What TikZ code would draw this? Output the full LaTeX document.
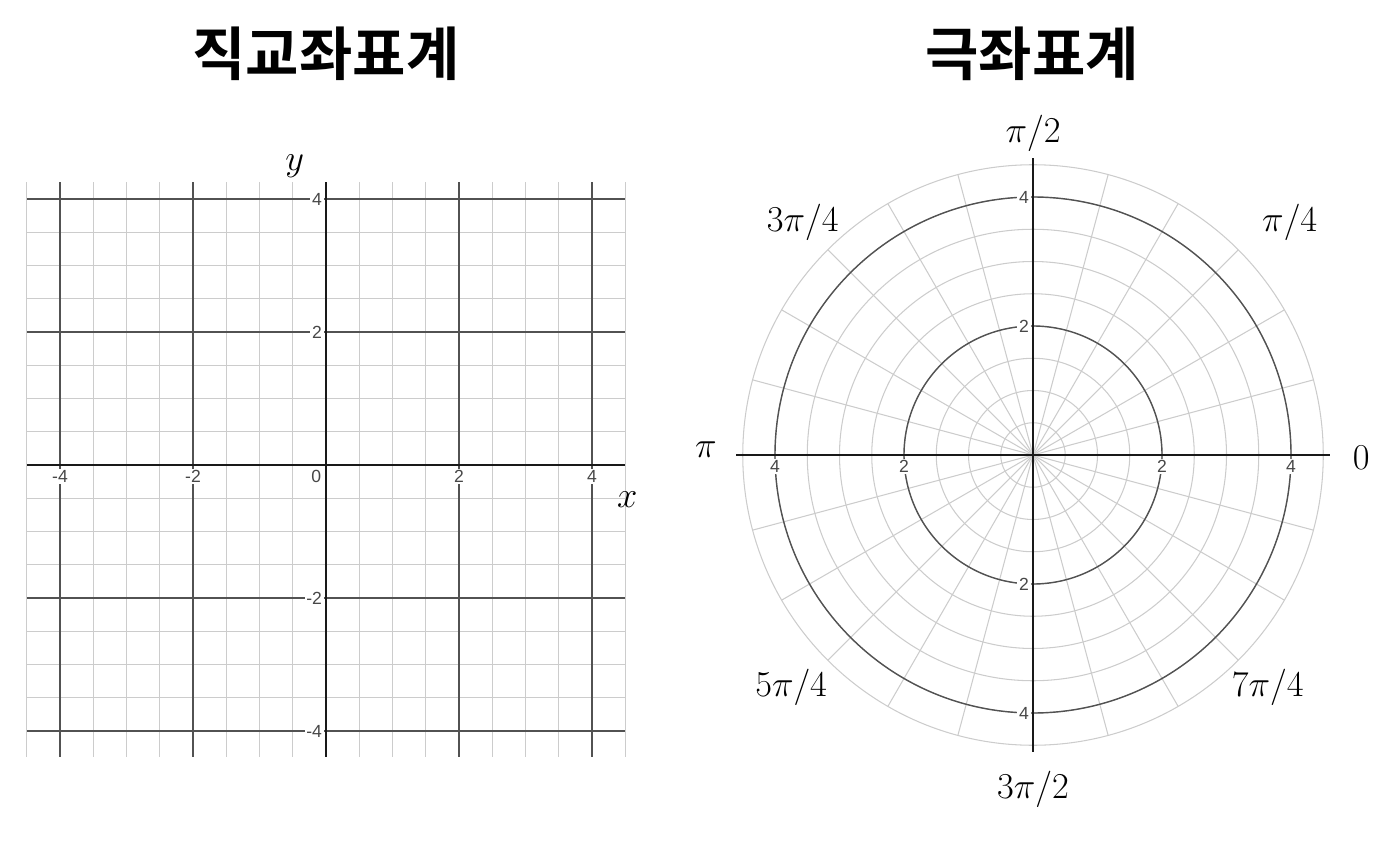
\documentclass[tikz,border=0pt]{standalone}
\usepackage{fontspec}
\newfontfamily\krfont{Noto Sans CJK KR}[BoldFont={Noto Sans CJK KR Bold}]
\newfontfamily\tickfont{Liberation Sans}
\usetikzlibrary{positioning}

\begin{document}
\begin{tikzpicture}[
        font=\footnotesize,
        title/.style={font=\krfont\bfseries\fontsize{33}{36}\selectfont},
        minorline/.style={draw=black!20, line width=0.6pt},
        majorline/.style={draw=black!68, line width=0.8pt},
        axisline/.style={draw=black!90, line width=1.1pt},
        ticklabel/.style={font=\tickfont\fontsize{10}{12}\selectfont, text=black!72, fill=white, inner sep=1pt},
        anglelabel/.style={font=\fontsize{20}{24}\selectfont},
    ]
    \useasboundingbox (0,0) rectangle (28,17.22);

    % ---- Titles ----
    \node[title] (cart-title) at (6.52,16.14) {직교좌표계};
    \node[title] (polar-title) at (20.64,16.14) {극좌표계};

    % ---- Cartesian (left) ----
    \begin{scope}[shift={(6.52,7.92)}, x=1.33cm, y=1.33cm]
        \foreach \i in {-9,...,9}
            \draw[minorline] (\i/2,-4.39) -- (\i/2,4.26);
        \foreach \i in {-8,...,8}
            \draw[minorline] (-4.5,\i/2) -- (4.5,\i/2);
        \foreach \v in {-4,-2,2,4} {
            \draw[majorline] (\v,-4.39) -- (\v,4.26);
            \draw[majorline] (-4.5,\v) -- (4.5,\v);
        }
        \draw[axisline] (-4.5,0) -- (4.5,0);
        \draw[axisline] (0,-4.39) -- (0,4.26);

        \foreach \v in {-4,-2,2,4} {
            \node[ticklabel, anchor=north] (xtick\v) at (\v,-0.05) {\v};
            \node[ticklabel, anchor=east] (ytick\v) at (-0.03,\v) {\v};
        }
        \node[ticklabel, anchor=north east] (origin) at (-0.04,-0.05) {0};

        \node[anglelabel] (xlabel) at (4.53,-0.52) {$x$};
        \node[anglelabel] (ylabel) at (-0.47,4.5) {$y$};
    \end{scope}

    % ---- Polar (right) ----
    \begin{scope}[shift={(20.66,8.12)}, x=1.29cm, y=1.29cm]
        \foreach \i in {1,...,9}
            \draw[minorline] (0,0) circle (\i/2);
        \foreach \a in {0,15,...,345}
            \draw[minorline] (0,0) -- (\a:4.5);
        \draw[majorline] (0,0) circle (2);
        \draw[majorline] (0,0) circle (4);
        \draw[axisline] (-4.6,0) -- (4.6,0);
        \draw[axisline] (0,-4.6) -- (0,4.6);

        \foreach \v in {2,4} {
            \node[ticklabel, anchor=north] (rtick\v) at (\v,-0.05) {\v};
            \node[ticklabel, anchor=north] (ltick\v) at (-\v,-0.05) {\v};
            \node[ticklabel, anchor=east] (utick\v) at (-0.03,\v) {\v};
            \node[ticklabel, anchor=east] (dtick\v) at (-0.03,-\v) {\v};
        }

        \node[anglelabel] (a0) at (5.09,-0.05) {$0$};
        \node[anglelabel] (a1) at (3.98,3.61) {$\pi/4$};
        \node[anglelabel] (a2) at (0,4.99) {$\pi/2$};
        \node[anglelabel] (a3) at (-3.57,3.61) {$3\pi/4$};
        \node[anglelabel] (a4) at (-5.07,0.08) {$\pi$};
        \node[anglelabel] (a5) at (-3.75,-3.61) {$5\pi/4$};
        \node[anglelabel] (a6) at (0,-5.19) {$3\pi/2$};
        \node[anglelabel] (a7) at (3.64,-3.61) {$7\pi/4$};
    \end{scope}
\end{tikzpicture}
\end{document}
